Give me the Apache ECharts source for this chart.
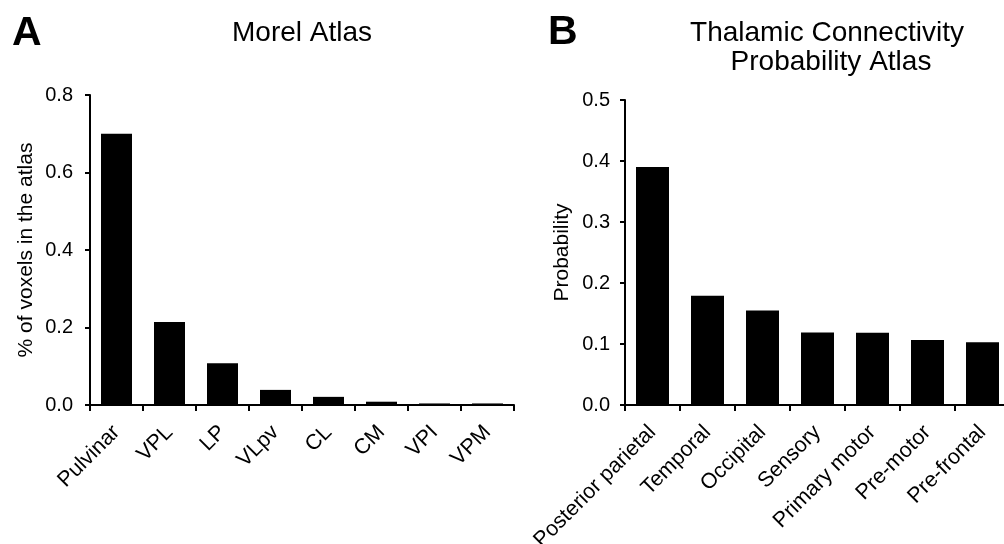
<!DOCTYPE html>
<html>
<head>
<meta charset="utf-8">
<script src="https://cdn.jsdelivr.net/npm/echarts@6/dist/echarts.min.js"></script>
<style>html,body{margin:0;padding:0;background:#fff}#c{width:1004px;height:544px}</style>
</head>
<body>
<div id="c"></div>
<script>
const catsA = ['Pulvinar','VPL','LP','VLpv','CL','CM','VPI','VPM'];
const valsA = [0.70, 0.214, 0.108, 0.039, 0.021, 0.0085, 0.004, 0.004];
const catsB = ['Posterior parietal','Temporal','Occipital','Sensory','Primary motor','Pre-motor','Pre-frontal'];
const valsB = [0.39, 0.179, 0.155, 0.119, 0.1185, 0.1066, 0.103];
const titleA = 'Morel Atlas';
const titleB1 = 'Thalamic Connectivity';
const titleB2 = 'Probability Atlas';
const yNameA = '% of voxels in the atlas';
const yNameB = 'Probability';

const FF = '"Liberation Sans", Arial, Helvetica, sans-serif';
const chart = echarts.init(document.getElementById('c'), null, {renderer:'canvas'});
const axisLine = {show:true, lineStyle:{color:'#000', width:2}};
const axisTickY = {show:true, inside:false, length:5, lineStyle:{color:'#000', width:2}};
const axisTickX = {show:true, inside:false, length:6, alignWithLabel:false, lineStyle:{color:'#000', width:2}};
const lbl = {color:'#000', fontSize:20, fontFamily:FF};
function xAxis(idx, cats){
  return {type:'category', gridIndex:idx, data:cats, boundaryGap:true,
    axisLine:axisLine, axisTick:axisTickX,
    axisLabel:{rotate:45, margin:24, interval:0, color:'#000', fontSize:21.5, fontFamily:FF, hideOverlap:false},
    splitLine:{show:false}};
}
function yAxis(idx, max, interval, name, gap, margin){
  return {type:'value', gridIndex:idx, min:0, max:max, interval:interval,
    name:name, nameLocation:'middle', nameRotate:90, nameGap:gap,
    nameTextStyle:{color:'#000', fontSize:21, fontFamily:FF},
    axisLine:axisLine, axisTick:axisTickY,
    axisLabel:Object.assign({margin:margin, formatter:v=>v.toFixed(1)}, lbl),
    splitLine:{show:false}};
}
chart.setOption({
  animation:false,
  backgroundColor:'#fff',
  grid:[
    {left:90, top:95, width:424, height:310, containLabel:false, outerBoundsMode:'none'},
    {left:625, top:100, width:385, height:305, containLabel:false, outerBoundsMode:'none'}
  ],
  xAxis:[xAxis(0,catsA), xAxis(1,catsB)],
  yAxis:[yAxis(0,0.8,0.2,yNameA,53,17), yAxis(1,0.5,0.1,yNameB,52,15)],
  series:[
    {type:'bar', xAxisIndex:0, yAxisIndex:0, data:valsA, barWidth:31, itemStyle:{color:'#000'}},
    {type:'bar', xAxisIndex:1, yAxisIndex:1, data:valsB, barWidth:33, itemStyle:{color:'#000'}}
  ],
  graphic:[
    {type:'text', x:12, y:34, style:{text:'A', font:'bold 41px '+FF, fill:'#000', textAlign:'left', textVerticalAlign:'middle'}},
    {type:'text', x:548, y:33, style:{text:'B', font:'bold 41px '+FF, fill:'#000', textAlign:'left', textVerticalAlign:'middle'}},
    {type:'text', x:302, y:33, style:{text:titleA, font:'28px '+FF, fill:'#000', textAlign:'center', textVerticalAlign:'middle'}},
    {type:'text', x:827, y:33, style:{text:titleB1, font:'28px '+FF, fill:'#000', textAlign:'center', textVerticalAlign:'middle'}},
    {type:'text', x:831, y:62, style:{text:titleB2, font:'28px '+FF, fill:'#000', textAlign:'center', textVerticalAlign:'middle'}}
  ]
});
</script>
</body>
</html>
